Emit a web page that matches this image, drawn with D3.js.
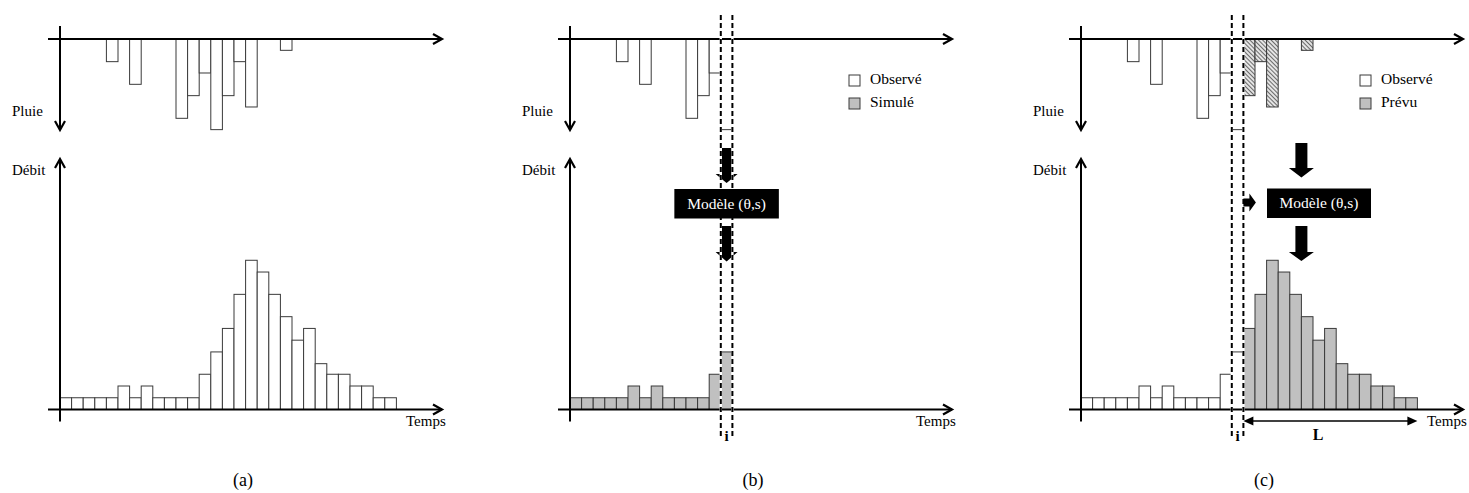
<!DOCTYPE html>
<html>
<head>
<meta charset="utf-8">
<script src="https://cdn.jsdelivr.net/npm/d3@7"></script>
<style>
body { margin: 0; background: #fff; }
svg { display: block; }
</style>
</head>
<body>
<svg width="1469" height="493" font-family="'Liberation Serif', 'DejaVu Serif', serif"></svg>
<script>
// time steps and the two series (arbitrary units)
var steps = d3.range(29);
var pluie = [0, 0, 0, 0, 2, 0, 4, 0, 0, 0, 7, 5, 3, 8, 5, 2, 6, 0, 0, 1];
var debit = [1, 1, 1, 1, 1, 2, 1, 2, 1, 1, 1, 1, 3, 4.9, 6.9, 9.8, 12.7, 11.7, 9.8, 7.9, 5.9, 6.9, 3.9, 3, 3, 2, 2, 1, 1];
var pasI = 13;   // current step "i"
var captions = ["(a)", "(b)", "(c)"];
var legendeB = ["Observé", "Simulé"];
var legendeC = ["Observé", "Prévu"];

var svg = d3.select("svg");
var GRIS = "#c0c0c0";
var BORD = "#3a3a3a";

// hatch pattern for forecast rain
var pat = svg.append("defs").append("pattern")
    .attr("id", "hachures")
    .attr("patternUnits", "userSpaceOnUse")
    .attr("width", 3).attr("height", 3)
    .attr("patternTransform", "rotate(-45)");
pat.append("rect").attr("width", 3).attr("height", 3).attr("fill", "#e4e4e4");
pat.append("line").attr("x1", 0.5).attr("x2", 0.5).attr("y1", 0).attr("y2", 3)
    .attr("stroke", "#6a6a6a").attr("stroke-width", 1);

function makeScales(x0) {
    return {
        x: d3.scaleBand().domain(steps).range([x0, x0 + steps.length * 11.6]).padding(0),
        yP: d3.scaleLinear().domain([0, 8]).range([39, 39 + 8 * 11.33]),
        yD: d3.scaleLinear().domain([0, 13]).range([409.5, 409.5 - 13 * 11.75])
    };
}

function drawPluie(g, sc, idx, fill) {
    g.selectAll(null)
        .data(idx.filter(i => pluie[i] > 0))
        .enter()
        .append("rect")
        .attr("x", i => sc.x(i))
        .attr("y", sc.yP(0))
        .attr("width", sc.x.bandwidth())
        .attr("height", i => sc.yP(pluie[i]) - sc.yP(0))
        .attr("fill", fill)
        .attr("stroke", BORD)
        .attr("stroke-width", 1);
}

function drawDebit(g, sc, idx, fill) {
    g.selectAll(null)
        .data(idx)
        .enter()
        .append("rect")
        .attr("x", i => sc.x(i))
        .attr("y", i => sc.yD(debit[i]))
        .attr("width", sc.x.bandwidth())
        .attr("height", i => sc.yD(0) - sc.yD(debit[i]))
        .attr("fill", fill)
        .attr("stroke", BORD)
        .attr("stroke-width", 1);
}

function drawAxes(g, x0, sc) {
    var right = x0 + 382;
    var line = (x1, y1, x2, y2) => g.append("line")
        .attr("x1", x1).attr("y1", y1).attr("x2", x2).attr("y2", y2)
        .attr("stroke", "#000").attr("stroke-width", 2);
    var head = d => g.append("path").attr("d", d)
        .attr("fill", "none").attr("stroke", "#000").attr("stroke-width", 2.2)
        .attr("stroke-linejoin", "miter");

    // rain axes
    line(x0 - 12, sc.yP(0), right, sc.yP(0));
    head(`M${right - 9},${sc.yP(0) - 5}L${right},${sc.yP(0)}L${right - 9},${sc.yP(0) + 5}`);
    line(x0, 26, x0, 130);
    head(`M${x0 - 5},${121}L${x0},${130}L${x0 + 5},${121}`);
    // flow axes
    line(x0 - 12, sc.yD(0), right, sc.yD(0));
    head(`M${right - 9},${sc.yD(0) - 5}L${right},${sc.yD(0)}L${right - 9},${sc.yD(0) + 5}`);
    line(x0, 421.5, x0, 159);
    head(`M${x0 - 5},${168}L${x0},${159}L${x0 + 5},${168}`);

    g.append("text").attr("x", x0 - 48).attr("y", 116).attr("font-size", 15).text("Pluie");
    g.append("text").attr("x", x0 - 48).attr("y", 175).attr("font-size", 15).text("Débit");
    g.append("text").attr("x", x0 + 346).attr("y", 426).attr("font-size", 15).text("Temps");
}

function drawColonne(g, sc) {
    var xs = [sc.x(pasI), sc.x(pasI) + sc.x.bandwidth()];
    xs.forEach(function (xv) {
        g.append("line").attr("x1", xv).attr("x2", xv).attr("y1", 15).attr("y2", 438)
            .attr("stroke", "#fff").attr("stroke-width", 2.4);
        g.append("line").attr("x1", xv).attr("x2", xv).attr("y1", 15).attr("y2", 438)
            .attr("stroke", "#000").attr("stroke-width", 2)
            .attr("stroke-dasharray", "5,3");
    });
    g.append("text")
        .attr("x", (xs[0] + xs[1]) / 2).attr("y", 441)
        .attr("text-anchor", "middle").attr("font-size", 15).attr("font-weight", "bold")
        .text("i");
}

function flecheBas(g, cx, y0, y1, y2, ws, wh) {
    var pts = [[cx - ws / 2, y0], [cx + ws / 2, y0], [cx + ws / 2, y1], [cx + wh / 2, y1],
               [cx, y2], [cx - wh / 2, y1], [cx - ws / 2, y1]];
    g.append("polygon").attr("points", pts.map(p => p.join(",")).join(" ")).attr("fill", "#000");
}

function modele(g, cx, y0, w) {
    g.append("rect").attr("x", cx - w / 2).attr("y", y0).attr("width", w).attr("height", 29.5)
        .attr("fill", "#000");
    g.append("text").attr("x", cx).attr("y", y0 + 19.5)
        .attr("text-anchor", "middle").attr("font-size", 15.5)
        .attr("fill", "#fff")
        .text("Modèle (θ,s)");
}

function legende(g, x0, labels, fills) {
    labels.forEach(function (lab, k) {
        var y = 75 + k * 23;
        g.append("rect").attr("x", x0 + 279).attr("y", y).attr("width", 11).attr("height", 11)
            .attr("fill", fills[k]).attr("stroke", BORD).attr("stroke-width", 1);
        g.append("text").attr("x", x0 + 300).attr("y", y + 9).attr("font-size", 15.5).text(lab);
    });
}

var origins = [60, 570, 1081];

// ---- panel (a) : observed data
var gA = svg.append("g");
var sA = makeScales(origins[0]);
drawPluie(gA, sA, steps.slice(0, pluie.length), "#fff");
drawDebit(gA, sA, steps, "#fff");
drawAxes(gA, origins[0], sA);

// ---- panel (b) : simulation up to step i
var gB = svg.append("g");
var sB = makeScales(origins[1]);
var passe = steps.filter(i => i <= pasI);
drawPluie(gB, sB, passe, "#fff");
drawDebit(gB, sB, passe, GRIS);
drawAxes(gB, origins[1], sB);
legende(gB, origins[1], legendeB, ["#fff", GRIS]);
var cB = sB.x(pasI) + sB.x.bandwidth() / 2;
flecheBas(gB, cB, 148, 174, 183, sB.x.bandwidth(), 22);
flecheBas(gB, cB, 226, 252, 261.5, sB.x.bandwidth(), 22);
drawColonne(gB, sB);
modele(gB, cB, 189, 104.5);

// ---- panel (c) : forecast after step i
var gC = svg.append("g");
var sC = makeScales(origins[2]);
var futur = steps.filter(i => i > pasI);
drawPluie(gC, sC, passe, "#fff");
drawPluie(gC, sC, futur.filter(i => i < pluie.length), "url(#hachures)");
drawDebit(gC, sC, passe, "#fff");
drawDebit(gC, sC, futur, GRIS);
drawAxes(gC, origins[2], sC);
legende(gC, origins[2], legendeC, ["#fff", GRIS]);
drawColonne(gC, sC);
var cC = sC.x(19);
flecheBas(gC, cC, 143, 168, 177.5, 12, 25);
flecheBas(gC, cC, 226, 252, 261, 12, 25);
modele(gC, origins[2] + 238, 188.5, 104);
// small arrow from column i into the model
var xa = sC.x(pasI) + sC.x.bandwidth();
gC.append("path")
    .attr("d", `M${xa},198.5H${xa + 6}V193.5L${xa + 12.5},202.5L${xa + 6},211.5V206.5H${xa}Z`)
    .attr("fill", "#000");
// horizon L
var xL0 = sC.x(pasI + 1), xL1 = sC.x(steps.length - 1) + sC.x.bandwidth();
gC.append("line").attr("x1", xL0 + 8).attr("x2", xL1 - 8).attr("y1", 421).attr("y2", 421)
    .attr("stroke", "#000").attr("stroke-width", 1.5);
gC.append("path").attr("d", `M${xL0},421L${xL0 + 10},416.5L${xL0 + 10},425.5Z`).attr("fill", "#000");
gC.append("path").attr("d", `M${xL1},421L${xL1 - 10},416.5L${xL1 - 10},425.5Z`).attr("fill", "#000");
gC.append("text").attr("x", origins[2] + 237).attr("y", 440)
    .attr("text-anchor", "middle").attr("font-size", 16).attr("font-weight", "bold").text("L");

// captions
captions.forEach(function (c, k) {
    svg.append("text").attr("x", origins[k] + 183).attr("y", 486)
        .attr("text-anchor", "middle").attr("font-size", 18).text(c);
});
</script>
</body>
</html>
